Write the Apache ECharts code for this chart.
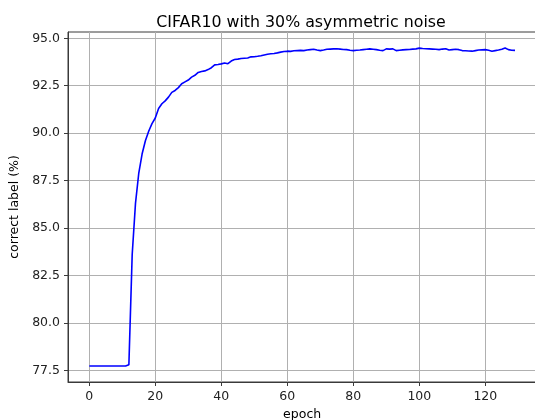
<!DOCTYPE html>
<html>
<head>
<meta charset="utf-8">
<script src="https://cdn.jsdelivr.net/npm/echarts@6/dist/echarts.min.js"></script>
<style>
html,body{margin:0;padding:0;background:#fff;}
#chart{width:535px;height:420px;}
</style>
</head>
<body>
<div id="chart"></div>
<script>
const titleText = "CIFAR10 with 30% asymmetric noise";
const xName = "epoch";
const yName = "correct label (%)";
const xTicks = [0, 20, 40, 60, 80, 100, 120];
const yTicks = [77.5, 80.0, 82.5, 85.0, 87.5, 90.0, 92.5, 95.0];
const epochs = Array.from({length: 130}, (_, i) => i);
const correct = [
  77.73, 77.73, 77.73, 77.73, 77.73, 77.73, 77.73, 77.73, 77.73, 77.73,
  77.73, 77.73, 77.80, 83.60, 86.30, 87.90, 88.90, 89.60, 90.10, 90.50,
  90.80, 91.30, 91.55, 91.70, 91.90, 92.15, 92.25, 92.40, 92.60, 92.70,
  92.80, 92.95, 93.05, 93.20, 93.25, 93.28, 93.35, 93.45, 93.60, 93.62,
  93.65, 93.70, 93.66, 93.80, 93.88, 93.90, 93.93, 93.95, 93.96, 94.02,
  94.03, 94.05, 94.08, 94.12, 94.16, 94.18, 94.20, 94.23, 94.27, 94.30,
  94.32, 94.31, 94.34, 94.35, 94.36, 94.35, 94.38, 94.40, 94.42, 94.38,
  94.35, 94.38, 94.42, 94.43, 94.44, 94.45, 94.43, 94.41, 94.40, 94.37,
  94.35, 94.37, 94.38, 94.40, 94.42, 94.44, 94.42, 94.40, 94.37, 94.35,
  94.44, 94.43, 94.44, 94.35, 94.37, 94.39, 94.40, 94.41, 94.43, 94.44,
  94.48, 94.46, 94.45, 94.44, 94.43, 94.42, 94.40, 94.43, 94.45, 94.38,
  94.40, 94.42, 94.40, 94.35, 94.34, 94.33, 94.32, 94.35, 94.38, 94.39,
  94.40, 94.37, 94.32, 94.35, 94.38, 94.42, 94.49, 94.40, 94.37, 94.36
];

const chart = echarts.init(document.getElementById('chart'), null, {renderer: 'canvas'});
const font = "DejaVu Sans";
chart.setOption({
  animation: false,
  backgroundColor: '#ffffff',
  title: {
    text: titleText,
    left: 296, top: 10, textAlign: 'center',
    textStyle: {fontFamily: font, fontSize: 15.8, fontWeight: 'normal', color: '#000'}
  },
  grid: {
    left: 68, width: 468.3, top: 32, bottom: 38,
    outerBoundsMode: 'none', containLabel: false,
    show: true, borderColor: '#3a3a3a', borderWidth: 1, backgroundColor: 'transparent'
  },
  xAxis: {
    type: 'value', min: -6.45, max: 135.45,
    name: xName, nameLocation: 'middle', nameGap: 24,
    nameTextStyle: {fontFamily: font, fontSize: 12.5, color: '#000'},
    axisLine: {show: true, onZero: false, lineStyle: {color: '#3a3a3a', width: 1}},
    axisTick: {show: true, inside: false, length: 4, customValues: xTicks, lineStyle: {color: '#3a3a3a'}},
    axisLabel: {customValues: xTicks, margin: 8, fontFamily: font, fontSize: 12.5, color: '#222',
      formatter: v => String(v)},
    splitLine: {show: true, lineStyle: {color: '#b0b0b0', width: 1}}
  },
  yAxis: {
    type: 'value', min: 76.89, max: 95.33,
    name: yName, nameLocation: 'middle', nameGap: 41, nameRotate: 90,
    nameTextStyle: {fontFamily: font, fontSize: 12.5, color: '#000'},
    axisLine: {show: true, onZero: false, lineStyle: {color: '#3a3a3a', width: 1}},
    axisTick: {show: true, inside: false, length: 4, customValues: yTicks, lineStyle: {color: '#3a3a3a'}},
    axisLabel: {customValues: yTicks, margin: 8, fontFamily: font, fontSize: 12.5, color: '#222',
      formatter: v => v.toFixed(1)},
    splitLine: {show: true, lineStyle: {color: '#b0b0b0', width: 1}}
  },
  series: [{
    type: 'line',
    data: epochs.map((e, i) => [e, correct[i]]),
    showSymbol: false, symbol: 'none',
    lineStyle: {color: '#0000ff', width: 1.6},
    itemStyle: {color: '#0000ff'},
    clip: true
  }]
});
</script>
</body>
</html>
